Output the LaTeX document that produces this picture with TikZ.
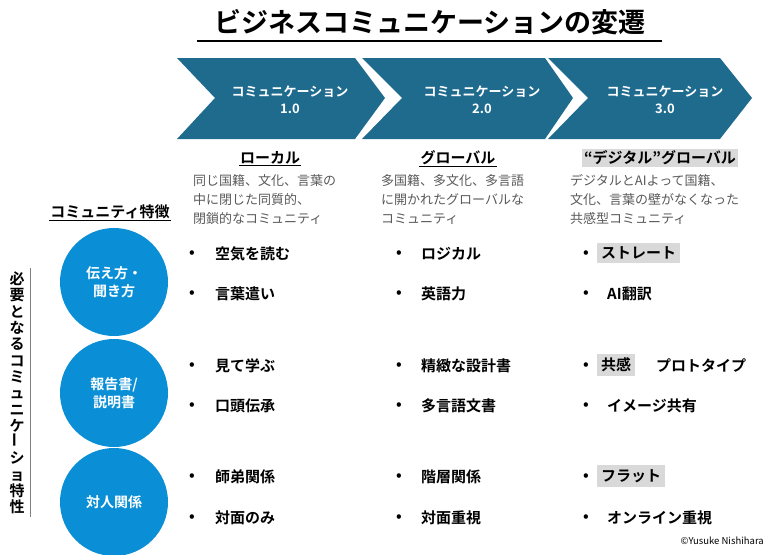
\documentclass[tikz,border=0pt]{standalone}
\usepackage{fontspec}
\setmainfont{Noto Sans CJK JP}
\newfontfamily\jpb{Noto Sans CJK JP Bold}
\definecolor{chev}{HTML}{1F6B8E}
\definecolor{circ}{HTML}{0A8FD6}
\definecolor{desc}{HTML}{595959}
\definecolor{hl}{HTML}{D9D9D9}
\begin{document}
\begin{tikzpicture}[x=1pt,y=-1pt,
  chevtext/.style={text=white,font=\jpb\fontsize{13}{17}\selectfont,align=center},
  circnode/.style={circle,fill=circ,minimum size=108pt,text=white,font=\jpb\fontsize{14}{18}\selectfont,align=center},
  head/.style={font=\jpb\fontsize{15}{17}\selectfont,inner sep=1pt},
  desctext/.style={font=\fontsize{13}{19}\selectfont,text=desc,align=left,anchor=north west,inner sep=0pt},
  bul/.style={font=\jpb\fontsize{15}{17}\selectfont,anchor=west,inner sep=0pt},
  hlbox/.style={fill=hl,inner sep=4pt,font=\jpb\fontsize{15}{17}\selectfont,anchor=west}]
\useasboundingbox (0,0) rectangle (768,554);
% title
\node[font=\jpb\fontsize{27}{30}\selectfont] (title) at (430,22) {ビジネスコミュニケーションの変遷};
\draw[line width=1.5pt] (197,41) -- (662,41);
% chevrons
\foreach \l/\n/\r/\t in {177/215/355/385,362/402/545/573,548/588/720/752}{
  \fill[chev] (\l,58) -- (\r,58) -- (\t,98) -- (\r,139) -- (\l,139) -- (\n,98) -- cycle;
}
\node[chevtext] (c1) at (290,100) {コミュニケーション\\1.0};
\node[chevtext] (c2) at (482,100) {コミュニケーション\\2.0};
\node[chevtext] (c3) at (665,100) {コミュニケーション\\3.0};
% headings
\node[head] (h1) at (270,158) {ローカル};
\draw[line width=1pt] (h1.south west) -- (h1.south east);
\node[head] (h2) at (458,158) {グローバル};
\draw[line width=1pt] (h2.south west) -- (h2.south east);
\node[head,fill=hl,inner sep=2pt] (h3) at (660,158) {“デジタル”グローバル};
% descriptions
\node[desctext] (d1) at (193,174) {同じ国籍、文化、言葉の\\中に閉じた同質的、\\閉鎖的なコミュニティ};
\node[desctext] (d2) at (381,174) {多国籍、多文化、多言語\\に開かれたグローバルな\\コミュニティ};
\node[desctext] (d3) at (570,174) {デジタルとAIよって国籍、\\文化、言葉の壁がなくなった\\共感型コミュニティ};
% community
\node[head] (ct) at (110,212) {コミュニティ特徴};
\draw[line width=1pt] (ct.south west) -- (ct.south east);
% circles
\node[circnode] (k1) at (114,282) {伝え方・\\聞き方};
\node[circnode] (k2) at (114,393) {報告書/\\説明書};
\node[circnode] (k3) at (114,502) {対人関係};
% vertical
\node[font=\jpb\fontsize{15}{16.3}\selectfont,align=center,inner sep=0pt] (vt) at (17,393) {必\\要\\と\\な\\る\\コ\\ミ\\ュ\\ニ\\ケ\\\rotatebox{90}{ー}\\シ\\ョ\\特\\性};
\draw[line width=0.8pt,gray] (30,268) -- (30,517);
% bullets
\foreach \y/\a/\b in {254/空気を読む/ロジカル,294/言葉遣い/英語力,366/見て学ぶ/精緻な設計書,406/口頭伝承/多言語文書,477/師弟関係/階層関係,518/対面のみ/対面重視}{
  \node[bul] at (189,\y) {•};
  \node[bul] at (215,\y) {\a};
  \node[bul] at (396,\y) {•};
  \node[bul] at (421,\y) {\b};
}
\foreach \y in {254,294,366,406,477,518}{\node[bul] at (583,\y) {•};}
\node[hlbox] (s1) at (597,253) {ストレート\hspace{4pt}};
\node[bul] (s2) at (607,294) {AI翻訳};
\node[hlbox] (s3) at (597,365) {共感};
\node[bul] (s3b) at (656,366) {プロトタイプ};
\node[bul] (s4) at (607,406) {イメージ共有};
\node[hlbox] (s5) at (597,476) {フラット\hspace{3pt}};
\node[bul] (s6) at (607,518) {オンライン重視};
% copyright
\node[font=\fontsize{9.5}{11}\selectfont,anchor=east,inner sep=0pt] (cp) at (764,541) {©Yusuke Nishihara};
\end{tikzpicture}
\end{document}
